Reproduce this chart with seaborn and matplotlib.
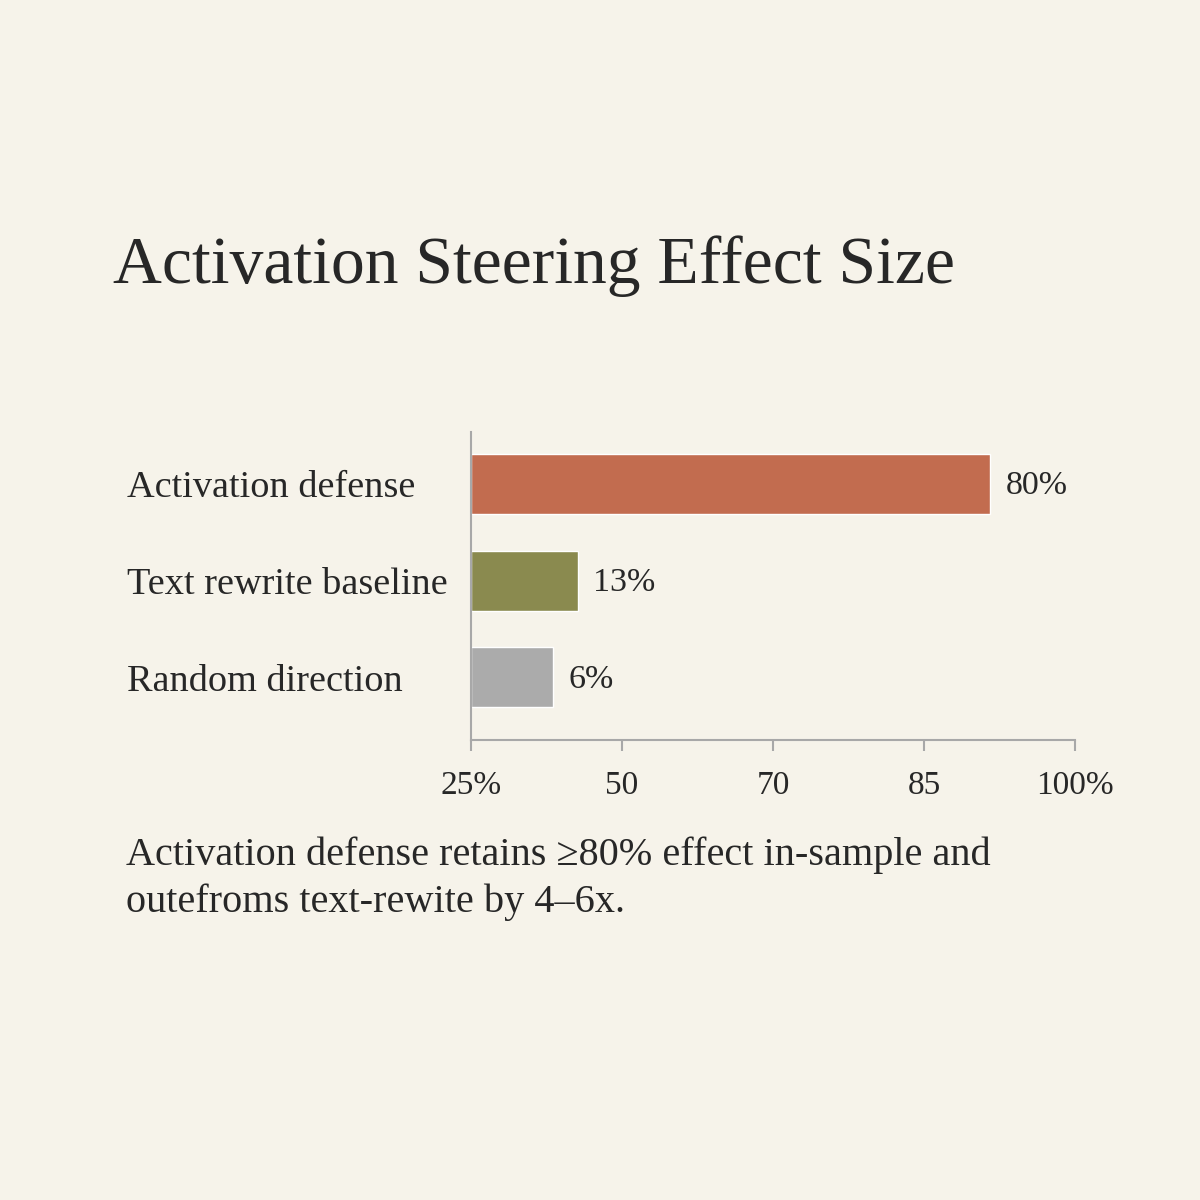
import numpy as np
import matplotlib
matplotlib.use('Agg')
import matplotlib.pyplot as plt
import seaborn as sns

# data
categories = ['Activation defense', 'Text rewrite baseline', 'Random direction']
bar_values = [91.6, 42.7, 38.6]          # bar ends read on the printed axis
value_labels = ['80%', '13%', '6%']
bar_colors = ['#C26C4F', '#8A8A4F', '#ABABAB']
tick_values = [25, 50, 70, 85, 100]
tick_labels = ['25%', '50', '70', '85', '100%']

title = 'Activation Steering Effect Size'
caption = ('Activation defense retains \u226580% effect in-sample and\n'
           'outefroms text-rewite by 4\u20136x.')

bg = '#F6F3EA'
ink = '#272727'
axis_gray = '#A8A8A8'

sns.set_theme(style='white')
plt.rcParams['font.family'] = ['Liberation Serif', 'DejaVu Serif']

fig = plt.figure(figsize=(12, 12), dpi=100, facecolor=bg)
ax = fig.add_axes([0.3925, 0.3833, 0.5033, 0.2567], facecolor=bg)

# the printed axis has evenly spaced but non-linear ticks
pos = np.arange(len(tick_values), dtype=float)
ax.set_xscale('function', functions=(lambda v: np.interp(v, tick_values, pos),
                                     lambda p: np.interp(p, pos, tick_values)))

sns.barplot(x=bar_values, y=categories, hue=categories, palette=bar_colors,
            legend=False, width=0.62, saturation=1, orient='h', ax=ax)

ax.set_xlim(25, 100)
ax.set_ylim(2.65, -0.54)
ax.set_xticks(tick_values)
ax.set_xticklabels(tick_labels)
ax.set_xlabel('')
ax.set_ylabel('')

for i, (v, lab) in enumerate(zip(bar_values, value_labels)):
    ax.annotate(lab, xy=(v, i), xytext=(11, -1.5), textcoords='offset points',
                ha='left', va='center', fontsize=24.5, color=ink)

ax.tick_params(axis='x', length=8, width=1.5, color=axis_gray, pad=14,
               labelsize=24, labelcolor=ink, bottom=True)
ax.tick_params(axis='y', length=0, pad=248, labelsize=27.5, labelcolor=ink)
for lbl in ax.get_yticklabels():
    lbl.set_ha('left')

for side in ['top', 'right']:
    ax.spines[side].set_visible(False)
for side in ['left', 'bottom']:
    ax.spines[side].set_color(axis_gray)
    ax.spines[side].set_linewidth(1.5)

fig.text(0.094, 0.778, title, fontsize=48.7, color=ink,
         ha='left', va='center')
fig.text(0.105, 0.268, caption, fontsize=29, color=ink, ha='left', va='center',
         linespacing=1.32)

fig.savefig('out.png', dpi=100, facecolor=bg)
